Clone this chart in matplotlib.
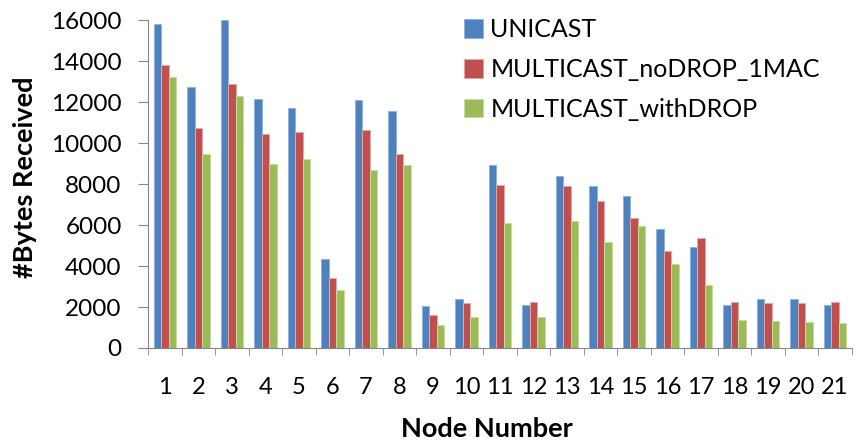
import numpy as np
import matplotlib.pyplot as plt

plt.rcParams['font.family'] = ['Lato', 'DejaVu Sans']

nodes = list(range(1, 22))
unicast = [15800, 12750, 16000, 12150, 11700, 4330, 12080, 11550, 2050, 2390, 8940,
           2110, 8390, 7900, 7410, 5790, 4940, 2110, 2390, 2390, 2110]
multicast_nodrop = [13790, 10750, 12860, 10450, 10550, 3400, 10650, 9450, 1600, 2210, 7940,
                    2260, 7900, 7150, 6340, 4710, 5350, 2260, 2210, 2210, 2260]
multicast_drop = [13240, 9480, 12310, 8960, 9200, 2830, 8680, 8910, 1140, 1500, 6110,
                  1530, 6180, 5150, 5970, 4080, 3060, 1370, 1300, 1270, 1200]

series = [
    ('UNICAST', unicast, '#4F81BD', '#8DB3E2'),
    ('MULTICAST_noDROP_1MAC', multicast_nodrop, '#C0504D', '#E6A9A7'),
    ('MULTICAST_withDROP', multicast_drop, '#9BBB59', '#C9DC9F'),
]

fig = plt.figure(figsize=(8.56, 4.47), dpi=100)
ax = fig.add_axes([0.173, 0.2215, 0.822, 0.7335])

x = np.arange(len(nodes))
w = 0.225
for i, (name, vals, col, edge) in enumerate(series):
    ax.bar(x + (i - 1) * w, vals, width=w, color=col, edgecolor=edge,
           linewidth=0.7, label=name)

ax.set_xlim(-0.5, len(nodes) - 0.5)
ax.set_ylim(0, 16000)
ax.set_yticks(range(0, 16001, 2000))
ax.tick_params(axis='y', labelsize=17.5, length=7, color='#868686', direction='out', pad=12)

# category labels in the middle, tick marks on the category boundaries
ax.set_xticks(x)
ax.set_xticklabels([str(n) for n in nodes], fontsize=17)
ax.tick_params(axis='x', which='major', length=0, pad=21)
ax.set_xticks(np.arange(-0.5, len(nodes), 1.0), minor=True)
ax.tick_params(axis='x', which='minor', length=5, color='#868686', direction='out')

for s in ['top', 'right']:
    ax.spines[s].set_visible(False)
for s in ['left', 'bottom']:
    ax.spines[s].set_color('#868686')
    ax.spines[s].set_linewidth(0.8)

ax.set_xlabel('Node Number', fontsize=19.5, fontweight='bold')
ax.set_ylabel('#Bytes Received', fontsize=19.5, fontweight='bold')
ax.xaxis.set_label_coords(0.482, -0.212)
ax.yaxis.set_label_coords(-0.158, 0.52)

ax.legend(loc='upper left', bbox_to_anchor=(0.417, 1.074), frameon=False, fontsize=18,
          handlelength=0.75, handleheight=0.75, handletextpad=0.3, labelspacing=0.67)

fig.savefig('out.png', dpi=100)
